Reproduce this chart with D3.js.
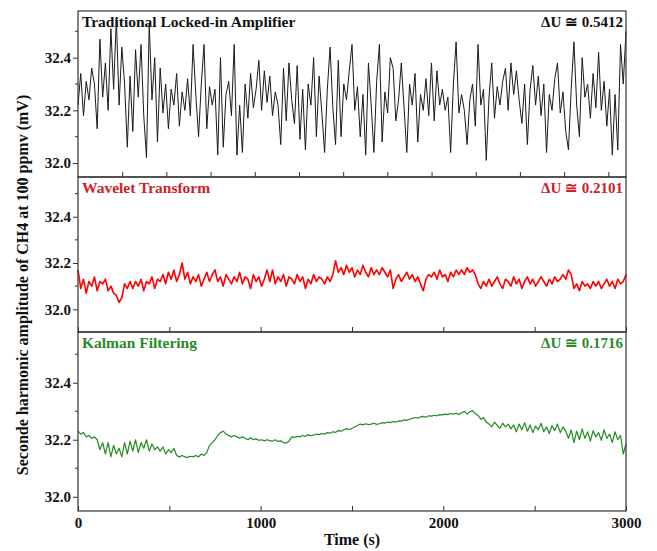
<!DOCTYPE html>
<html>
<head>
<meta charset="utf-8">
<script src="https://cdn.jsdelivr.net/npm/d3@7/dist/d3.min.js"></script>
<style>
    body { margin: 0; background: #fff; }
    svg text { font-family: "Liberation Serif", "Times New Roman", serif; font-weight: bold; }
</style>
</head>
<body>
<svg id="chart" width="657" height="551"></svg>
<script>
// one sample every 15 s, 0 .. 3000 s
var sampleStep = 15;

var lockinValues = [
    32.22, 32.34, 32.18, 32.31, 32.24, 32.36, 32.30, 32.13, 32.47, 32.25,
    32.38, 32.20, 32.51, 32.28, 32.55, 32.22, 32.44, 32.30, 32.06, 32.33,
    32.12, 32.43, 32.25, 32.45, 32.18, 32.02, 32.53, 32.24, 32.40, 32.08,
    32.36, 32.19, 32.30, 32.13, 32.28, 32.22, 32.34, 32.14, 32.27, 32.20,
    32.32, 32.18, 32.45, 32.26, 32.10, 32.30, 32.45, 32.13, 32.29, 32.22,
    32.28, 32.03, 32.40, 32.06, 32.26, 32.31, 32.18, 32.45, 32.03, 32.22,
    32.04, 32.30, 32.17, 32.34, 32.21, 32.28, 32.39, 32.20, 32.35, 32.23,
    32.33, 32.18, 32.27, 32.22, 32.07, 32.36, 32.16, 32.38, 32.24, 32.15,
    32.37, 32.09, 32.28, 32.05, 32.30, 32.22, 32.40, 32.10, 32.33, 32.19,
    32.04, 32.28, 32.44, 32.21, 32.07, 32.39, 32.10, 32.30, 32.24, 32.35,
    32.45, 32.20, 32.29, 32.10, 32.26, 32.03, 32.38, 32.22, 32.04, 32.31,
    32.45, 32.08, 32.27, 32.19, 32.40, 32.36, 32.16, 32.24, 32.38, 32.21,
    32.04, 32.30, 32.22, 32.34, 32.08, 32.26, 32.20, 32.32, 32.18, 32.38,
    32.16, 32.35, 32.22, 32.28, 32.20, 32.25, 32.04, 32.30, 32.46, 32.19,
    32.26, 32.20, 32.07, 32.24, 32.30, 32.14, 32.45, 32.22, 32.28, 32.01,
    32.25, 32.38, 32.17, 32.29, 32.22, 32.31, 32.36, 32.20, 32.38, 32.26,
    32.35, 32.24, 32.15, 32.30, 32.07, 32.28, 32.37, 32.22, 32.33, 32.18,
    32.30, 32.04, 32.26, 32.20, 32.32, 32.38, 32.19, 32.27, 32.12, 32.05,
    32.28, 32.46, 32.22, 32.10, 32.40, 32.25, 32.30, 32.17, 32.34, 32.21,
    32.42, 32.20, 32.31, 32.14, 32.28, 32.03, 32.26, 32.05, 32.45, 32.30, 32.50
];

var waveletValues = [
    32.17, 32.09, 32.13, 32.07, 32.12, 32.10, 32.14, 32.08, 32.12, 32.11,
    32.13, 32.08, 32.10, 32.07, 32.06, 32.03, 32.05, 32.11, 32.09, 32.12,
    32.09, 32.12, 32.10, 32.13, 32.08, 32.12, 32.11, 32.14, 32.09, 32.13,
    32.12, 32.15, 32.11, 32.16, 32.13, 32.17, 32.12, 32.15, 32.20, 32.13,
    32.16, 32.11, 32.14, 32.12, 32.15, 32.10, 32.13, 32.16, 32.12, 32.15,
    32.17, 32.12, 32.14, 32.10, 32.15, 32.13, 32.11, 32.14, 32.12, 32.16,
    32.11, 32.14, 32.13, 32.09, 32.15, 32.12, 32.14, 32.10, 32.13, 32.17,
    32.12, 32.17, 32.11, 32.14, 32.12, 32.15, 32.10, 32.14, 32.13, 32.11,
    32.15, 32.12, 32.14, 32.09, 32.13, 32.11, 32.15, 32.12, 32.14, 32.13,
    32.11, 32.14, 32.12, 32.15, 32.21, 32.16, 32.18, 32.15, 32.19, 32.16,
    32.18, 32.14, 32.17, 32.15, 32.19, 32.16, 32.14, 32.18, 32.15, 32.17,
    32.15, 32.18, 32.16, 32.14, 32.17, 32.09, 32.13, 32.15, 32.12, 32.14,
    32.16, 32.13, 32.15, 32.12, 32.14, 32.11, 32.08, 32.13, 32.15, 32.14,
    32.16, 32.13, 32.17, 32.14, 32.15, 32.12, 32.16, 32.14, 32.17, 32.15,
    32.17, 32.15, 32.18, 32.16, 32.17, 32.15, 32.11, 32.09, 32.12, 32.10,
    32.13, 32.10, 32.12, 32.14, 32.11, 32.09, 32.13, 32.12, 32.10, 32.14,
    32.11, 32.13, 32.09, 32.12, 32.14, 32.11, 32.13, 32.10, 32.12, 32.14,
    32.12, 32.10, 32.13, 32.11, 32.14, 32.12, 32.13, 32.15, 32.13, 32.17,
    32.15, 32.09, 32.11, 32.08, 32.12, 32.10, 32.11, 32.09, 32.12, 32.10,
    32.12, 32.09, 32.11, 32.13, 32.10, 32.12, 32.09, 32.13, 32.11, 32.12, 32.15
];

var kalmanValues = [
    32.230, 32.220, 32.225, 32.210, 32.215, 32.205, 32.210, 32.200, 32.165, 32.190,
    32.150, 32.190, 32.140, 32.180, 32.150, 32.170, 32.140, 32.190, 32.150, 32.195,
    32.160, 32.200, 32.155, 32.190, 32.170, 32.200, 32.160, 32.185, 32.165, 32.175,
    32.160, 32.175, 32.150, 32.165, 32.155, 32.170, 32.145, 32.140, 32.145, 32.140,
    32.138, 32.142, 32.140, 32.145, 32.140, 32.150, 32.145, 32.155, 32.180, 32.190,
    32.200, 32.215, 32.225, 32.230, 32.220, 32.215, 32.210, 32.215, 32.210, 32.205,
    32.210, 32.205, 32.200, 32.207, 32.200, 32.203, 32.198, 32.200, 32.196, 32.200,
    32.197, 32.195, 32.200, 32.194, 32.196, 32.190, 32.188, 32.195, 32.210, 32.208,
    32.212, 32.210, 32.215, 32.212, 32.218, 32.214, 32.216, 32.220, 32.218, 32.222,
    32.220, 32.225, 32.223, 32.228, 32.226, 32.232, 32.230, 32.235, 32.238, 32.236,
    32.240, 32.245, 32.250, 32.255, 32.252, 32.256, 32.253, 32.255, 32.258, 32.254,
    32.256, 32.260, 32.258, 32.262, 32.260, 32.264, 32.262, 32.266, 32.265, 32.270,
    32.268, 32.272, 32.275, 32.278, 32.276, 32.280, 32.282, 32.279, 32.284, 32.283,
    32.286, 32.284, 32.288, 32.287, 32.290, 32.288, 32.292, 32.290, 32.293, 32.289,
    32.295, 32.300, 32.290, 32.298, 32.302, 32.292, 32.285, 32.272, 32.278, 32.262,
    32.255, 32.245, 32.262, 32.250, 32.240, 32.258, 32.245, 32.255, 32.238, 32.252,
    32.228, 32.255, 32.235, 32.260, 32.230, 32.252, 32.225, 32.248, 32.235, 32.258,
    32.228, 32.245, 32.222, 32.250, 32.232, 32.255, 32.225, 32.245, 32.230, 32.205,
    32.235, 32.190, 32.230, 32.200, 32.238, 32.205, 32.228, 32.195, 32.232, 32.210,
    32.225, 32.198, 32.235, 32.205, 32.220, 32.190, 32.228, 32.200, 32.215, 32.150, 32.185
];

var panelNames = ['Traditional Locked-in Amplifier', 'Wavelet Transform', 'Kalman Filtering'];
var deltaU = ['0.5412', '0.2101', '0.1716'];
var lineColors = ['#1a1a1a', '#ff0000', '#228b22'];
var lineWidths = [1.0, 1.6, 1.2];
var labelColors = ['#111111', '#cc2229', '#2a8a2a'];
var yMajorTicks = [32.0, 32.2, 32.4];
var yMinorTicks = [32.1, 32.3, 32.5];
var xTicks = [0, 500, 1000, 1500, 2000, 2500, 3000];
var xLabelTicks = [0, 1000, 2000, 3000];

var svg = d3.select('#chart');
var left = 78, right = 626;

// the three stacked panels share the left/right edges
var panels = [
    { top: 11, bottom: 177, domain: [31.947, 32.577] },
    { top: 177, bottom: 332, domain: [31.902, 32.5715] },
    { top: 332, bottom: 511, domain: [31.95, 32.578] }
];
var series = [lockinValues, waveletValues, kalmanValues];

var x = d3.scaleLinear().domain([0, 3000]).range([left, right]);
// top panel was drawn with its own time axis in the original
var xTop = d3.scaleLinear().domain([0, 3100]).range([left, right]);

panels.forEach(function(p, k) {
    var y = d3.scaleLinear().domain(p.domain).range([p.bottom, p.top]);
    var g = svg.append('g').attr('class', 'panel-' + k);

    var line = d3.line()
        .x(function(d, i) { return x(i * sampleStep); })
        .y(function(d) { return y(d); });

    g.append('path')
        .datum(series[k])
        .attr('d', line)
        .attr('fill', 'none')
        .attr('stroke', lineColors[k])
        .attr('stroke-width', lineWidths[k])
        .attr('stroke-linejoin', 'round');

    // frame
    g.append('rect')
        .attr('x', left)
        .attr('y', p.top)
        .attr('width', right - left)
        .attr('height', p.bottom - p.top)
        .attr('fill', 'none')
        .attr('stroke', '#333')
        .attr('stroke-width', 1.2);

    // y axis, major + minor
    var yAxis = g.append('g')
        .attr('transform', 'translate(' + left + ',0)')
        .call(d3.axisLeft(y).tickValues(yMajorTicks).tickFormat(d3.format('.1f')).tickSize(5).tickPadding(2));
    yAxis.select('.domain').remove();
    yAxis.selectAll('text').attr('font-size', 15).attr('fill', '#111');
    yAxis.selectAll('line').attr('stroke', '#333');

    var minor = yMinorTicks.filter(function(v) {
        return v > p.domain[0] + 0.02 && v < p.domain[1] - 0.02;
    });
    g.selectAll('.yminor')
        .data(minor)
        .enter().append('line')
        .attr('x1', left - 3)
        .attr('x2', left)
        .attr('y1', function(d) { return y(d); })
        .attr('y2', function(d) { return y(d); })
        .attr('stroke', '#333');

    // bottom ticks point inward
    var xAxis;
    if (k === 0) {
        xAxis = d3.axisBottom(xTop).tickValues(d3.range(250, 3100, 250)).tickFormat('');
    } else if (k === 1) {
        xAxis = d3.axisBottom(x).tickValues(xTicks).tickFormat('');
    } else {
        xAxis = d3.axisBottom(x).tickValues(xTicks).tickFormat(function(d) {
            return xLabelTicks.indexOf(d) !== -1 ? d : '';
        });
    }
    var xg = g.append('g')
        .attr('transform', 'translate(0,' + p.bottom + ')')
        .call(xAxis.tickSize(-5).tickPadding(6));
    xg.select('.domain').remove();
    xg.selectAll('line').attr('stroke', '#333');
    xg.selectAll('text').attr('font-size', 15).attr('fill', '#111');

    // panel captions
    g.append('text')
        .attr('x', left + 4)
        .attr('y', p.top + 16)
        .attr('font-size', 15.5)
        .attr('fill', labelColors[k])
        .text(panelNames[k]);

    g.append('text')
        .attr('x', right - 3)
        .attr('y', p.top + 16)
        .attr('text-anchor', 'end')
        .attr('font-size', 15)
        .attr('fill', labelColors[k])
        .text('\u0394U \u2245  ' + deltaU[k]);
});

svg.append('text')
    .attr('x', (left + right) / 2)
    .attr('y', 545)
    .attr('text-anchor', 'middle')
    .attr('font-size', 16)
    .attr('fill', '#111')
    .text('Time (s)');

svg.append('text')
    .attr('transform', 'translate(28,285) rotate(-90)')
    .attr('text-anchor', 'middle')
    .attr('font-size', 16)
    .attr('fill', '#111')
    .text('Seconde harmonic amplitude of CH4 at 100 ppmv (mV)');
</script>
</body>
</html>
